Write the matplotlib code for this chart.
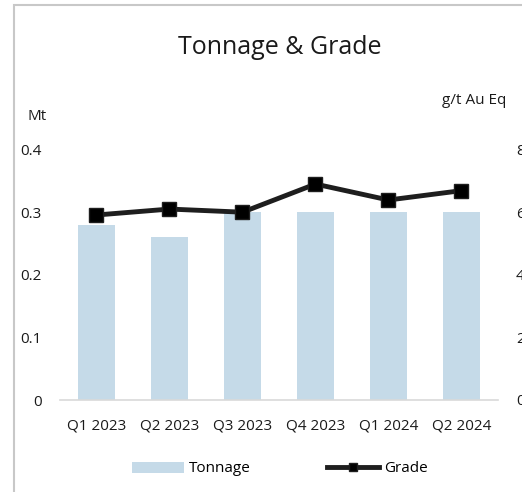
import numpy as np
import matplotlib.pyplot as plt
from matplotlib.patches import Rectangle

plt.rcParams['font.family'] = ['Open Sans', 'DejaVu Sans']

quarters = ["Q1 2023", "Q2 2023", "Q3 2023", "Q4 2023", "Q1 2024", "Q2 2024"]
tonnage = [0.28, 0.26, 0.30, 0.30, 0.30, 0.30]
grade = [5.92, 6.11, 6.01, 6.91, 6.40, 6.70]
left_ticks = [0, 0.1, 0.2, 0.3, 0.4]
left_labels = ["0", "0.1", "0.2", "0.3", "0.4"]
right_ticks = [0, 2, 4, 6, 8]

bar_color = "#c5dae8"
line_color = "#1e1e1e"

fig = plt.figure(figsize=(5.22, 4.92), dpi=100)
W, H = 522, 492

# outer frame (cropped on the right and bottom)
fig.patches.append(Rectangle((14 / W, -0.1), 1.2, 1 - 5 / H + 0.1,
                             transform=fig.transFigure, fill=False,
                             edgecolor="#c8c8c8", linewidth=1.5))

ax = fig.add_axes([60 / W, 1 - 400 / H, 438 / W, 250 / H])
x = np.arange(len(quarters))
ax.bar(x, tonnage, width=0.5, color=bar_color, label="Tonnage", zorder=2)
ax.set_xlim(-0.5, len(quarters) - 0.5)
ax.set_ylim(0, 0.4)
ax.set_yticks(left_ticks)
ax.set_yticklabels(left_labels)
ax.set_xticks(x)
ax.set_xticklabels(quarters)
ax.tick_params(axis="both", length=0, labelsize=11, colors="#1a1a1a")
ax.tick_params(axis="x", pad=13)
ax.tick_params(axis="y", pad=13)
for s in ["top", "right", "left"]:
    ax.spines[s].set_visible(False)
ax.spines["bottom"].set_color("#d9d9d9")
ax.spines["bottom"].set_linewidth(1.2)

ax2 = ax.twinx()
ax2.plot(x, grade, color=line_color, linewidth=3.5, marker="s",
         markersize=10, markerfacecolor="black", markeredgecolor=line_color,
         label="Grade", zorder=3)
ax2.set_ylim(0, 8)
ax2.set_yticks(right_ticks)
ax2.tick_params(axis="y", length=0, labelsize=11, colors="#1a1a1a", pad=13)
for s in ["top", "right", "left", "bottom"]:
    ax2.spines[s].set_visible(False)

fig.text(280 / W, 1 - 47 / H, "Tonnage & Grade", ha="center", va="center",
         fontsize=18, color="#1a1a1a")
fig.text(37 / W, 1 - 117 / H, "Mt", ha="center", va="center",
         fontsize=11, color="#1a1a1a")
fig.text(442 / W, 1 - 100 / H, "g/t Au Eq", ha="left", va="center",
         fontsize=11, color="#1a1a1a")

h1, l1 = ax.get_legend_handles_labels()
h2, l2 = ax2.get_legend_handles_labels()
fig.legend(h1 + h2, l1 + l2, loc="center", bbox_to_anchor=(280 / W, 1 - 469 / H),
           ncol=2, frameon=False, fontsize=11, handlelength=3.4,
           handletextpad=0.3, columnspacing=5.0, markerscale=0.6)

fig.savefig("out.png", dpi=100)
